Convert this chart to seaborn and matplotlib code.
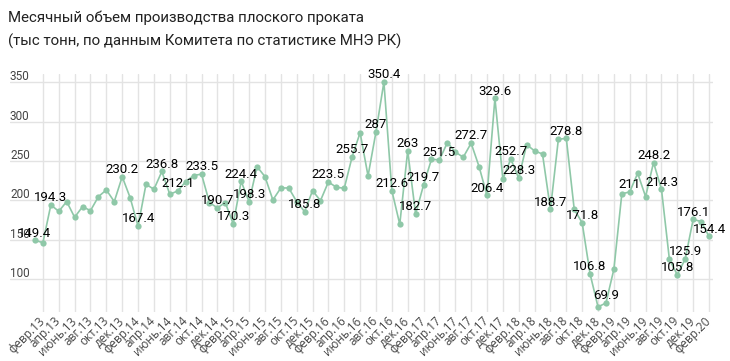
import matplotlib
matplotlib.use("Agg")
import matplotlib.pyplot as plt
import matplotlib.transforms as mtransforms
import seaborn as sns
import pandas as pd

# Monthly values, Jan 2013 .. Feb 2020 (thousand tonnes)
values = [
    149.4, 146.5, 194.3, 186.3, 198.6, 178.7, 192.2, 187.1, 204.9, 213.4, 198.6, 230.2,
    203.6, 167.4, 220.6, 214.2, 236.8, 207.9, 212.1, 223.9, 231.6, 233.5, 197.3, 190.7,
    197.3, 170.3, 224.4, 198.3, 243.0, 230.3, 200.7, 215.9, 215.9, 198.6, 185.8, 212.5,
    199.8, 223.5, 216.8, 215.5, 255.7, 286.0, 231.1, 287.0, 350.4, 212.6, 169.8, 263.0,
    182.7, 219.7, 252.3, 251.5, 273.4, 261.6, 254.8, 272.7, 243.0, 206.4, 329.6, 227.3,
    252.7, 228.3, 270.9, 262.9, 259.0, 188.7, 277.7, 278.8, 188.8, 171.8, 106.8, 65.0,
    69.9, 112.7, 208.3, 211.0, 234.5, 204.9, 248.2, 214.3, 125.4, 105.8, 125.9, 176.1,
    173.2, 154.4,
]

# indices of points that carry a data label
labeled = [0, 2, 11, 13, 16, 18, 21, 23, 25, 26, 27, 34, 37, 40, 43, 44, 45, 47, 48, 49,
           51, 55, 57, 58, 60, 61, 65, 67, 69, 70, 72, 75, 78, 79, 81, 82, 83, 85]

tick_months = ["февр", "апр", "июнь", "авг", "окт", "дек"]
tick_years = ["13", "14", "15", "16", "17", "18", "19", "20"]
tick_labels = [f"{m}.{y}" for y in tick_years for m in tick_months][:43]
tick_pos = list(range(1, 86, 2))

y_ticks = [100, 150, 200, 250, 300, 350]

title_lines = ["Месячный объем производства плоского проката",
               "(тыс тонн, по данным Комитета по статистике МНЭ РК)"]

df = pd.DataFrame({"idx": range(len(values)), "value": values})

sns.set_style("white")
plt.rcParams["font.family"] = ["Roboto", "DejaVu Sans"]

W, H = 730, 361
fig = plt.figure(figsize=(W / 100, H / 100), dpi=100)
ax = fig.add_axes([10 / W, 1 - 312 / H, (713 - 10) / W, (312 - 74) / H])

line_color = "#8fc8a8"
sns.lineplot(data=df, x="idx", y="value", ax=ax, color=line_color, linewidth=1.2,
             marker="o", markersize=4.5, markeredgewidth=0, markerfacecolor=line_color)

ax.set_xlim(-3.15, 85.5)
ax.set_ylim(58.5, 360.5)
ax.set_xlabel("")
ax.set_ylabel("")

ax.set_xticks(tick_pos)
ax.set_xticklabels(tick_labels, rotation=45, ha="right", va="center",
                   rotation_mode="anchor", fontsize=8.5, color="#444444",
                   family=["Open Sans", "DejaVu Sans"])
ax.tick_params(axis="x", length=0, pad=5)

ax.set_yticks(y_ticks)
ax.set_yticklabels([str(v) for v in y_ticks], fontsize=8.5, color="#444444")
ax.tick_params(axis="y", length=0, pad=0)
off = mtransforms.ScaledTranslation(0, 7 / 100, fig.dpi_scale_trans)
for lbl in ax.get_yticklabels():
    lbl.set_horizontalalignment("left")
    lbl.set_transform(lbl.get_transform() + off)

ax.grid(True, color="#e3e3e3", linewidth=1)
for s in ax.spines.values():
    s.set_visible(False)

for i in labeled:
    v = values[i]
    txt = f"{v:g}"
    ax.annotate(txt, (i, v), xytext=(0, 0.5), textcoords="offset points",
                ha="center", va="bottom", fontsize=9.5,
                color="#000000", zorder=5)

fig.text(8 / W, 1 - 18 / H, title_lines[0], fontsize=10.8, color="#222222",
         va="center", ha="left")
fig.text(8 / W, 1 - 41 / H, title_lines[1], fontsize=10.8, color="#222222",
         va="center", ha="left")

fig.savefig("out.png", dpi=100, facecolor="white")
